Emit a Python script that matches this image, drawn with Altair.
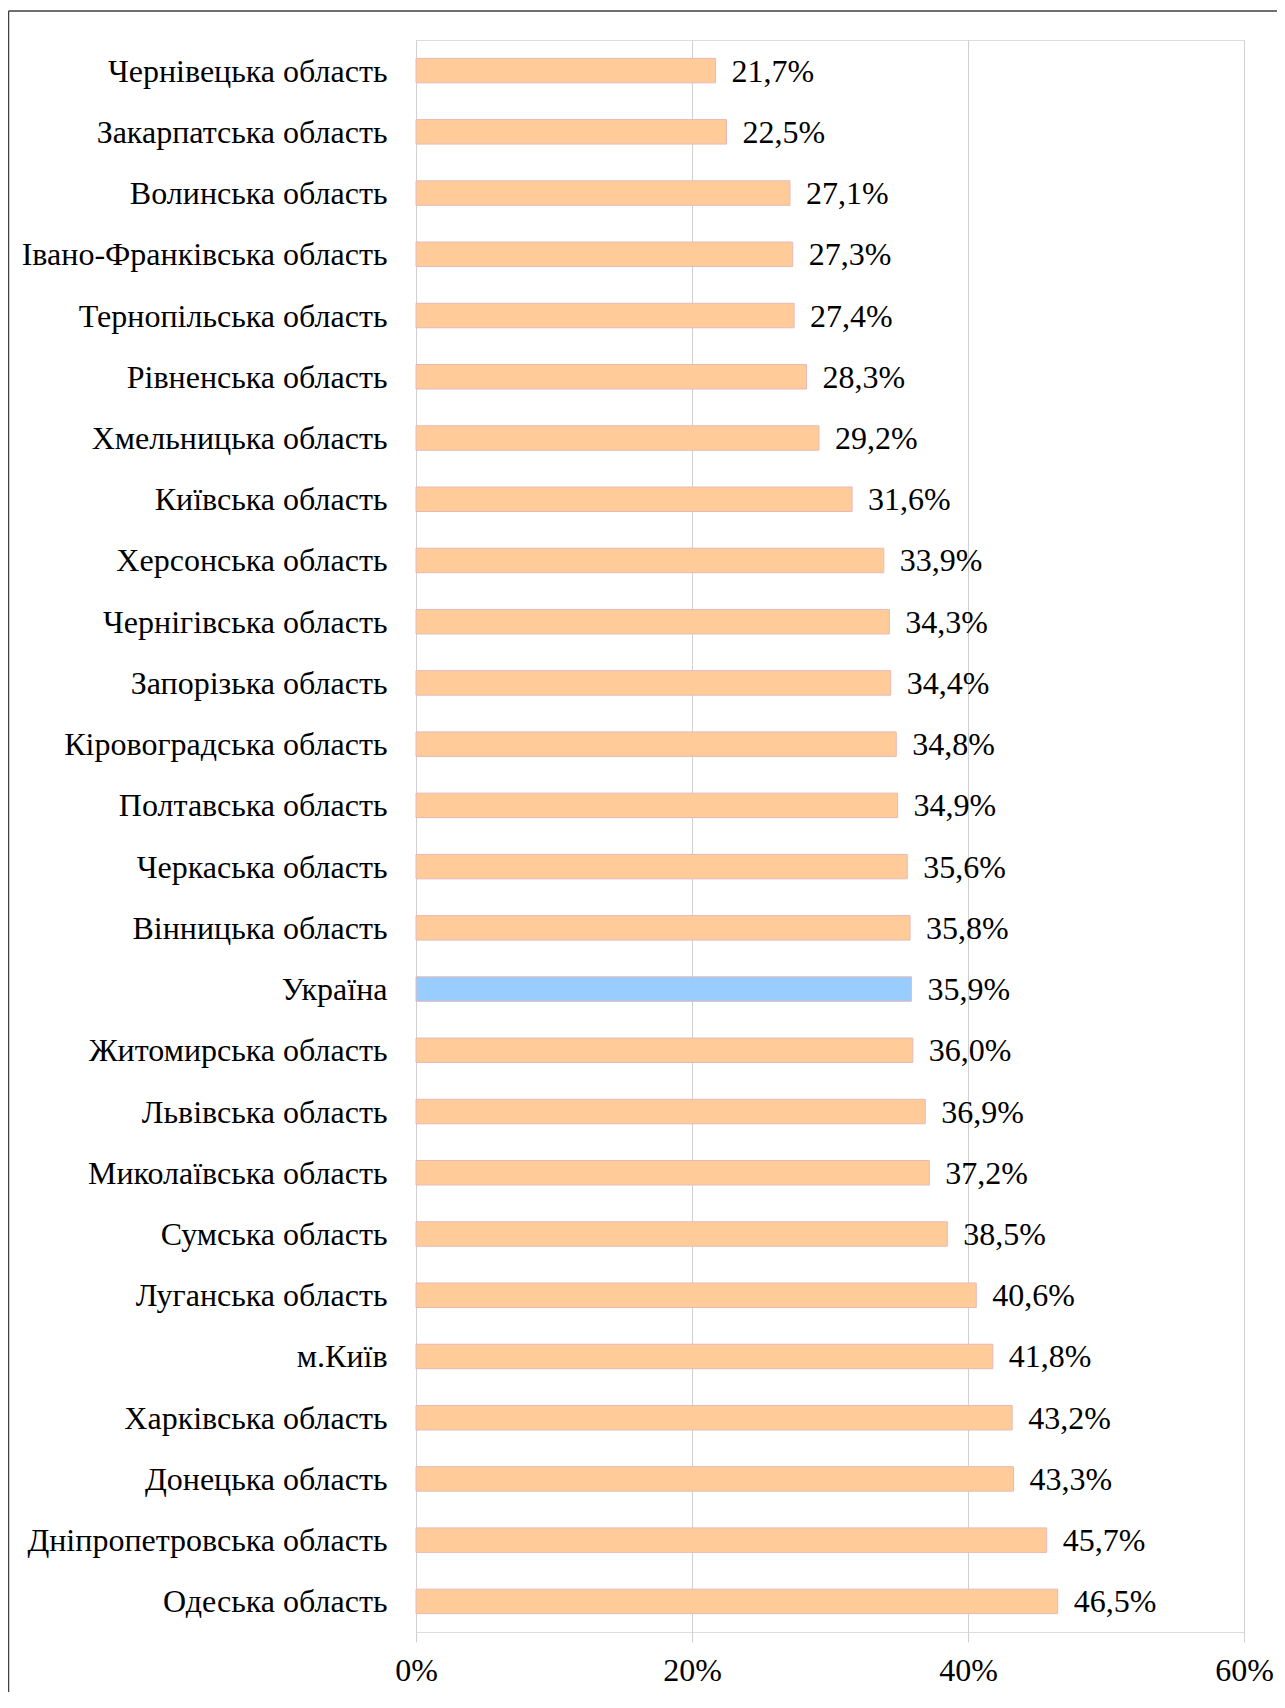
import altair as alt
import pandas as pd

regions = [
    "Чернівецька область", "Закарпатська область", "Волинська область",
    "Івано-Франківська область", "Тернопільська область", "Рівненська область",
    "Хмельницька область", "Київська область", "Херсонська область",
    "Чернігівська область", "Запорізька область", "Кіровоградська область",
    "Полтавська область", "Черкаська область", "Вінницька область", "Україна",
    "Житомирська область", "Львівська область", "Миколаївська область",
    "Сумська область", "Луганська область", "м.Київ", "Харківська область",
    "Донецька область", "Дніпропетровська область", "Одеська область",
]
values = [21.7, 22.5, 27.1, 27.3, 27.4, 28.3, 29.2, 31.6, 33.9, 34.3, 34.4,
          34.8, 34.9, 35.6, 35.8, 35.9, 36.0, 36.9, 37.2, 38.5, 40.6, 41.8,
          43.2, 43.3, 45.7, 46.5]
x_ticks = [0, 20, 40, 60]

df = pd.DataFrame({"region": regions, "value": values})
df["label"] = [f"{v:.1f}%".replace(".", ",") for v in values]
df["kind"] = ["total" if r == "Україна" else "region" for r in regions]

FONT = "Liberation Serif, Times New Roman, serif"
FS = 32

y_enc = alt.Y("region:N", sort=regions,
              scale=alt.Scale(paddingInner=0.6, paddingOuter=0.3),
              axis=alt.Axis(title=None, domain=False, ticks=False,
                            labelPadding=29, labelFontSize=FS,
                            labelFont=FONT, labelColor="#000000",
                            labelLimit=0, labelOffset=1))
x_enc = alt.X("value:Q", scale=alt.Scale(domain=[0, 60], nice=False),
              axis=alt.Axis(title=None, values=x_ticks,
                            labelExpr="datum.value + '%'",
                            labelFlush=False, labelOverlap=False,
                            grid=True, gridColor="#D0D0D0", gridWidth=1,
                            domain=False, ticks=True, tickColor="#D0D0D0",
                            tickSize=10, labelPadding=13, labelFontSize=FS,
                            labelFont=FONT, labelColor="#000000"))

bars = alt.Chart(df).mark_bar(stroke="#E6B9B8", strokeWidth=1).encode(
    y=y_enc,
    x=x_enc,
    color=alt.Color("kind:N",
                    scale=alt.Scale(domain=["region", "total"],
                                    range=["#FFCC99", "#99CCFF"]),
                    legend=None),
)

labels = alt.Chart(df).mark_text(align="left", baseline="middle", dx=16, dy=1,
                                 font=FONT, fontSize=FS, color="#000000").encode(
    y=alt.Y("region:N", sort=regions),
    x="value:Q",
    text="label:N",
)

frame_data = alt.Data(values=[{"a": 1}])
frame_top = alt.Chart(frame_data).mark_rule(color="#404040", strokeWidth=1.5).encode(
    x=alt.value(-407.5), x2=alt.value(1200), y=alt.value(-29), y2=alt.value(-29))
frame_left = alt.Chart(frame_data).mark_rule(color="#404040", strokeWidth=1.5).encode(
    x=alt.value(-407.5), x2=alt.value(-407.5), y=alt.value(-29), y2=alt.value(1800))

chart = alt.layer(bars, labels, frame_top, frame_left).properties(
    width=828, height=1592,
    autosize=alt.AutoSizeParams(type="none"),
    padding={"left": 408, "top": 32, "right": 33, "bottom": 60},
).configure_view(stroke="#BDBDBD", strokeWidth=3).configure(background="white")

chart.save("out.html", embed_options={"renderer": "svg", "actions": False})
